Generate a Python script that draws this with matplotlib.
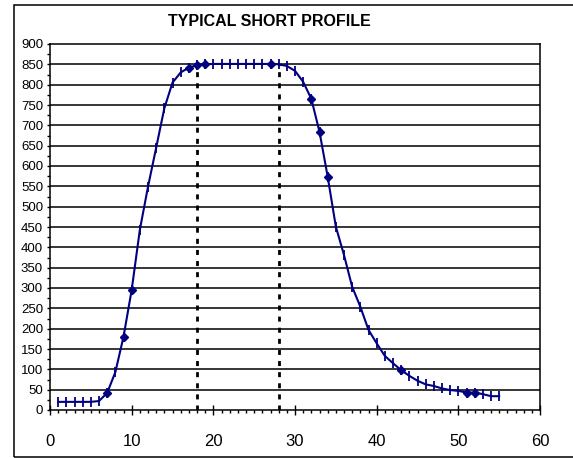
import matplotlib
matplotlib.use('Agg')
import matplotlib.pyplot as plt
from matplotlib.patches import Rectangle
from matplotlib.ticker import MultipleLocator

plt.rcParams['font.family'] = ['Liberation Sans', 'DejaVu Sans']

# profile data
position = list(range(1, 56))
value = [20, 20, 20, 20, 20, 22, 42, 93, 180, 295,
         443, 549, 645, 742, 805, 830, 842, 848, 850, 851,
         851, 851, 851, 851, 851, 851, 851, 850, 846, 834,
         807, 765, 684, 574, 451, 381, 303, 254, 197, 164,
         133, 115, 98, 84, 72, 63, 59, 53, 49, 47,
         43, 43, 39, 34, 34]
diamond_at = [7, 9, 10, 17, 18, 19, 27, 32, 33, 34, 43, 51, 52]
marker_lines = [18, 28]
marker_top = 850

fig = plt.figure(figsize=(5.73, 4.58), dpi=100)
ax = fig.add_axes([50 / 573, 1 - 410 / 458, 490 / 573, 366 / 458])

# outer chart border (open on the right side, like the source)
fig.patches.append(Rectangle((13.5 / 573, 1 - 456.5 / 458), 1.2, (456.5 - 5) / 458,
                             transform=fig.transFigure, fill=False,
                             edgecolor='black', linewidth=1.1))

ax.set_xlim(0, 60)
ax.set_ylim(0, 900)
ax.yaxis.set_major_locator(MultipleLocator(50))
ax.yaxis.set_minor_locator(MultipleLocator(25))
ax.xaxis.set_major_locator(MultipleLocator(10))
ax.xaxis.set_minor_locator(MultipleLocator(1))

for g in range(50, 900, 50):
    ax.axhline(g, color='black', linewidth=1.1, zorder=1)

for xv in marker_lines:
    ax.plot([xv, xv], [0, marker_top], color='black', linewidth=2,
            linestyle=(0, (1.8, 2.2)), zorder=2)

ax.plot(position, value, color='#000080', linewidth=1.5, marker='|',
        markersize=7, markeredgewidth=1.3, zorder=3)
dx = [p for p in position if p in diamond_at]
dy = [value[position.index(p)] for p in dx]
ax.plot(dx, dy, linestyle='none', marker='D', markersize=4.5,
        color='#000080', zorder=4)

for s in ax.spines.values():
    s.set_linewidth(1.1)

ax.tick_params(axis='y', which='both', direction='out', length=2.5, width=1,
               labelsize=9.5, pad=2.5)
ax.tick_params(axis='x', which='minor', direction='out', length=2.5, width=1)
ax.tick_params(axis='x', which='major', direction='inout', length=7, width=1,
               labelsize=12, pad=14)

fig.text(269 / 573, 1 - 22 / 458, 'TYPICAL SHORT PROFILE', ha='center',
         va='center', fontsize=11.5, fontweight='bold')

fig.savefig('out.png', dpi=100)
